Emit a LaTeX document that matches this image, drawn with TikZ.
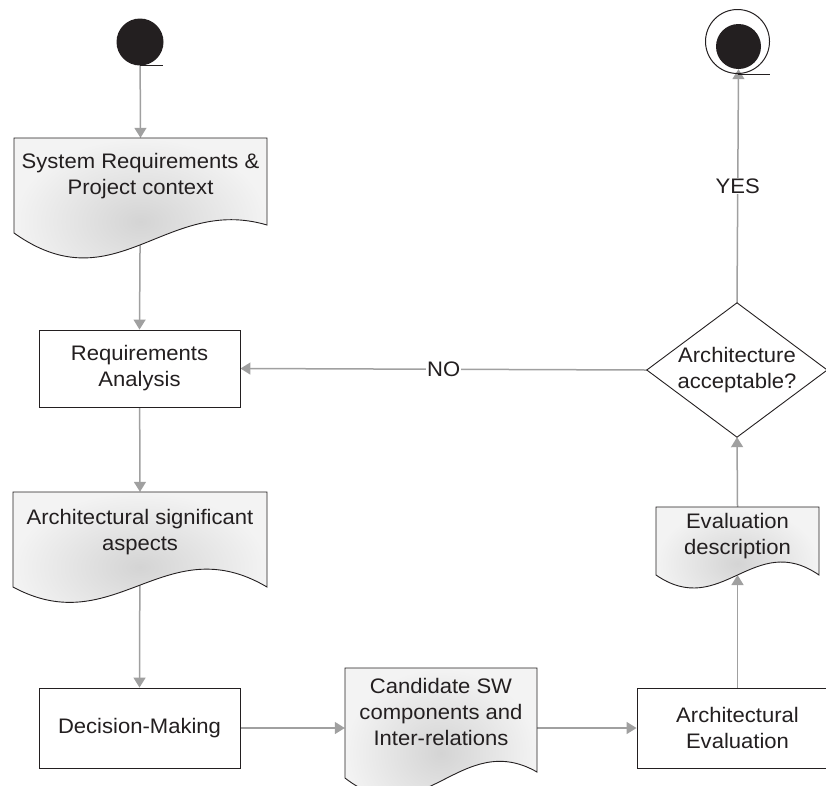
\documentclass[tikz,border=0pt]{standalone}
\usepackage{fontspec}
\setmainfont{Liberation Sans}[FakeStretch=1.05]
\usetikzlibrary{arrows.meta,shapes.geometric}
\pgfdeclarelayer{bg}
\pgfsetlayers{bg,main}
\definecolor{ink}{HTML}{231F20}
\definecolor{conn}{HTML}{A0A0A0}
\definecolor{docin}{HTML}{D4D4D4}
\definecolor{docout}{HTML}{F3F3F3}
% #1 L, #2 T, #3 R, #4 left bottom, #5 right bottom, #6 dip, #7 crest
\newcommand{\mydocshape}[7]{%
  \shadedraw[docfill] (#1,#2) -- (#3,#2) -- (#3,#5)
    .. controls ({#1+0.6*(#3-#1)},{#4-#7}) and ({#1+0.4*(#3-#1)},{#4+#6}) .. (#1,#4) -- cycle;}
\begin{document}
\begin{tikzpicture}[x=1pt,y=-1pt,
  every node/.style={font=\fontsize{21}{26}\selectfont, text=ink, align=center},
  procbox/.style={draw=ink, line width=0.9pt, fill=white, minimum width=201pt, minimum height=78pt, inner sep=0pt},
  docarea/.style={inner sep=0pt},
  docfill/.style={draw=ink, line width=0.9pt, inner color=docin, outer color=docout},
  flow/.style={draw=conn, line width=1.5pt, -{Triangle[length=10pt,width=12pt]}},
  lbl/.style={fill=white, inner sep=1pt},
  tick/.style={draw=ink, line width=1pt}]
\useasboundingbox (0,0) rectangle (826,785);
\clip (0,0) rectangle (826,785);

% start and end
\node[circle, fill=ink, minimum size=47pt, inner sep=0pt] (start) at (140,42) {};
\node[circle, draw=ink, line width=1pt, minimum size=64pt, inner sep=0pt] (endo) at (737.5,41.5) {};
\node[circle, fill=ink, minimum size=45pt, inner sep=0pt] (endi) at (738.5,46.5) {};
\draw[tick] (start.south) -- ++(23,0);
\draw[tick] (endo.south) -- ++(32,0);

% document shapes
\mydocshape{14}{138}{267}{233}{225}{72}{38}
\mydocshape{13}{492}{267}{587}{587}{55}{60}
\mydocshape{345}{668}{537}{778}{772}{60}{50}
\mydocshape{656}{507}{819}{575}{575}{45}{45}

\node[docarea, minimum width=253pt, minimum height=76pt] (sys) at (140.5,176) {System Requirements \&\\Project context};
\node[docarea, minimum width=254pt, minimum height=80pt] (asp) at (140,532) {Architectural significant\\aspects};
\node[docarea, minimum width=192pt, minimum height=88pt] (cand) at (441,712) {Candidate SW\\components and\\Inter-relations};
\node[docarea, minimum width=163pt, minimum height=58pt] (evd) at (737.5,536) {Evaluation\\description};
\coordinate (evdb) at (737.5,575);

% process boxes
\node[procbox, minimum height=77pt] (req) at (139.5,368.5) {Requirements\\Analysis};
\node[procbox, minimum height=80pt] (dm) at (139.5,728) {Decision-Making};
\node[procbox, minimum height=80pt] (ae) at (737.5,728) {Architectural\\Evaluation};

% decision
\node[minimum width=180pt, minimum height=134pt, inner sep=0pt] (dec) at (737,370) {Architecture\\acceptable?};
\draw[ink, line width=0.9pt] (dec.north) -- (dec.east) -- (dec.south) -- (dec.west) -- cycle;

\begin{pgfonlayer}{bg}
\draw[flow] (start) -- (sys.north);
\draw[flow] (sys.center) -- (req.north);
\draw[flow] (req) -- (asp.north);
\draw[flow] (asp.center) -- (dm.north);
\draw[flow] (dm.east) -- (dm.east -| cand.west);
\draw[flow] (ae.west -| cand.east) -- (ae.west);
\draw[flow] (ae.north) -- (evdb);
\draw[flow] (evd.north) -- (dec.south);
\draw[flow] (dec.west) -- node[lbl] (no) {NO} (req.east);
\draw[flow] (dec.north) -- node[lbl] (yes) {YES} (endi.south);
\end{pgfonlayer}
\end{tikzpicture}
\end{document}
